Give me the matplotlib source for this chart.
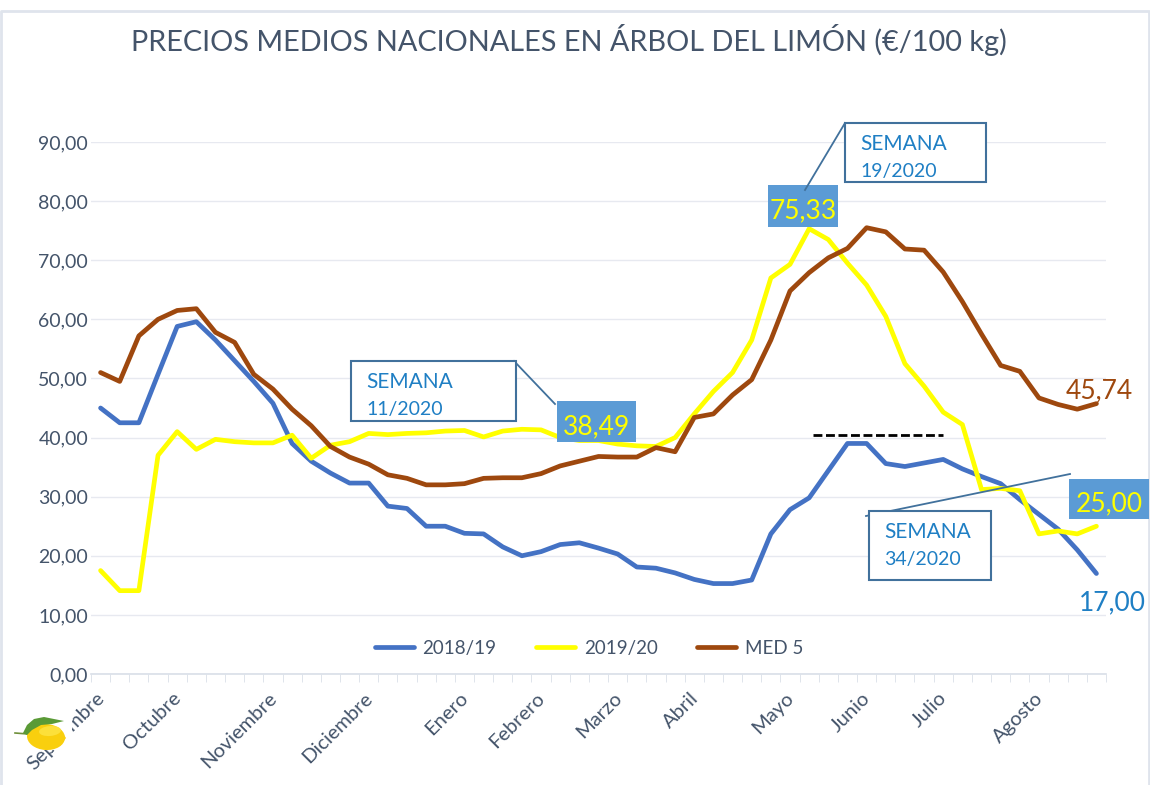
import numpy as np
import matplotlib
matplotlib.use('Agg')
import matplotlib.pyplot as plt
from matplotlib.patches import Rectangle, Ellipse, Polygon
from matplotlib.transforms import ScaledTranslation

plt.rcParams['font.family'] = ['Lato', 'DejaVu Sans']

W, H = 1150, 785

months = ['Septiembre', 'Octubre', 'Noviembre', 'Diciembre', 'Enero', 'Febrero',
          'Marzo', 'Abril', 'Mayo', 'Junio', 'Julio', 'Agosto']
month_pos = [0, 4, 9, 14, 19, 23, 27, 31, 36, 40, 44, 49]

s2018 = [45, 42.5, 42.5, 50.7, 58.8, 59.6, 56.5, 53, 49.5, 45.8,
         39, 36, 34, 32.3, 32.3, 28.4, 28, 25, 25, 23.8,
         23.7, 21.5, 20, 20.7, 21.9, 22.2, 21.3, 20.3, 18.1, 17.9,
         17.1, 16, 15.3, 15.3, 15.9, 23.7, 27.8, 29.8, 34.4, 39,
         39, 35.6, 35.1, 35.7, 36.3, 34.7, 33.4, 32.2, 29.5, 27,
         24.5, 21, 17]
s2019 = [17.5, 14.1, 14.1, 37, 41, 38, 39.7, 39.3, 39.1, 39.1,
         40.4, 36.5, 38.7, 39.3, 40.7, 40.5, 40.7, 40.8, 41.1, 41.2,
         40.1, 41.1, 41.4, 41.3, 40, 39.5, 39.5, 38.9, 38.6, 38.49,
         40, 44, 47.8, 51, 56.5, 67, 69.3, 75.33, 73.5, 69.5,
         65.8, 60.5, 52.5, 48.7, 44.3, 42.2, 31.2, 31.4, 31, 23.7,
         24.2, 23.7, 25]
med5 = [51, 49.5, 57.2, 60, 61.5, 61.8, 57.8, 56.1, 50.7, 48.2,
        44.8, 42, 38.5, 36.7, 35.5, 33.7, 33.1, 32, 32, 32.2,
        33.1, 33.2, 33.2, 33.9, 35.2, 36, 36.8, 36.7, 36.7, 38.3,
        37.6, 43.4, 44, 47.2, 49.8, 56.5, 64.8, 67.9, 70.4, 72,
        75.5, 74.8, 71.9, 71.7, 68, 63, 57.5, 52.2, 51.2, 46.7,
        45.6, 44.8, 45.74]
yticks = np.arange(0, 100, 10)

text_col = '#44546A'
box_col = '#41719C'
label_blue = '#1F7FC4'
fill_blue = '#5B9BD5'

fig = plt.figure(figsize=(W / 100, H / 100), dpi=100)
ax = fig.add_axes([91 / W, 1 - 674 / H, (1106 - 91) / W, (674 - 142) / H])
x = np.arange(len(s2018))

ax.set_xlim(-0.5, len(s2018) - 0.5)
ax.set_ylim(0, 90)
ax.grid(axis='y', color='#E7E9F0', lw=1)
ax.set_axisbelow(True)
for side in ['top', 'right', 'left']:
    ax.spines[side].set_visible(False)
ax.spines['bottom'].set_color('#D9DFE8')
ax.spines['bottom'].set_linewidth(1.2)

l1, = ax.plot(x, s2018, color='#4472C4', lw=3.4, label='2018/19', solid_capstyle='round')
l2, = ax.plot(x, s2019, color='#FFFF00', lw=3.4, label='2019/20', solid_capstyle='round')
l3, = ax.plot(x, med5, color='#9E480E', lw=3.4, label='MED 5', solid_capstyle='round')
ax.plot([37.2, 44], [40.4, 40.4], color='black', lw=2, dashes=(3.2, 1.3))

ax.set_yticks(yticks)
ax.set_yticklabels([f'{v:.2f}'.replace('.', ',') for v in yticks], fontsize=14, color=text_col)
ax.tick_params(axis='y', length=0, pad=2)
ax.set_xticks(month_pos)
ax.set_xticklabels(months, rotation=45, ha='right', rotation_mode='anchor',
                   fontsize=14.5, color=text_col)
ax.tick_params(axis='x', which='major', length=0, pad=11)
shift = ScaledTranslation(-5 / 100, 0, fig.dpi_scale_trans)
for lab in ax.get_xticklabels():
    lab.set_transform(lab.get_transform() + shift)
ax.set_xticks(np.arange(-0.5, len(s2018)), minor=True)
ax.tick_params(axis='x', which='minor', length=6, color='#D9DFE8')

ax.legend(handles=[l1, l2, l3], loc='center',
          bbox_to_anchor=(0.5 - 9.5 / 1015, 1 - (648.5 - 142) / (674 - 142)),
          ncol=3, frameon=False, fontsize=13.5, labelcolor=text_col, handlelength=2.1,
          columnspacing=2.1, handletextpad=0.45)

# overlay in picture pixels for the title, callouts and lemon
ov = fig.add_axes([0, 0, 1, 1], facecolor='none')
ov.set_xlim(0, W)
ov.set_ylim(H, 0)
ov.axis('off')

ov.plot([1, 1, 1149, 1149], [H, 11, 11, H], color='#DFE4EC', lw=2)
ov.text(569, 40, 'PRECIOS MEDIOS NACIONALES EN ÁRBOL DEL LIMÓN (€/100 kg)', ha='center',
        va='center', fontsize=20.8, color=text_col)


def callout(x0, y0, x1, y1, line, week):
    ov.plot(line[0], line[1], color=box_col, lw=1.3, zorder=5)
    ov.add_patch(Rectangle((x0, y0), x1 - x0, y1 - y0, fc='white', ec=box_col, lw=1.5, zorder=6))
    ov.text(x0 + 15, y0 + 21, 'SEMANA', color=label_blue, fontsize=15, va='center', zorder=7)
    ov.text(x0 + 15, y0 + 49, week, color=label_blue, fontsize=14, va='center', zorder=7)


def value_box(x0, y0, x1, y1, txt):
    ov.add_patch(Rectangle((x0, y0), x1 - x0, y1 - y0, fc=fill_blue, ec='none', zorder=4))
    ov.text((x0 + x1) / 2, (y0 + y1) / 2 + 5, txt, color='#FFFF00', fontsize=19,
            ha='center', va='center', zorder=7)


value_box(768, 185, 838, 227, '75,33')
value_box(557, 401, 636, 442, '38,49')
value_box(1069, 479, 1149, 519, '25,00')
callout(845, 123, 986, 182, ([845, 805], [123, 190]), '19/2020')
callout(351, 361, 516, 421, ([514, 555], [361, 404]), '11/2020')
callout(869, 511, 991, 580, ([866, 1070], [516, 474]), '34/2020')

ov.text(1099, 391, '45,74', color='#9E480E', fontsize=19, ha='center', va='center')
ov.text(1112, 603, '17,00', color=label_blue, fontsize=19, ha='center', va='center')

# lemon picture in the corner, with its white background hiding part of the label
ov.add_patch(Rectangle((26, 716), 46, 34, fc='white', ec='none', zorder=8))
ov.plot([15, 28], [733, 734], color='#6E8F3A', lw=1.2, zorder=9)
ov.add_patch(Ellipse((46, 737), 38, 26, angle=4, fc='#F9CF0E', ec='none', zorder=9))
ov.add_patch(Polygon([[60, 729], [66, 738], [60, 746]], fc='#F9CF0E', ec='none', zorder=9))
ov.add_patch(Ellipse((50, 731), 22, 10, angle=-5, fc='#FCE03A', ec='none', zorder=10))
ov.add_patch(Polygon([[23, 733], [27, 725], [34, 719], [44, 717], [54, 719], [64, 721],
                      [52, 724], [41, 725], [32, 730], [27, 735]],
                     fc='#5A9A36', ec='none', zorder=11))

fig.savefig('out.png', dpi=100)
